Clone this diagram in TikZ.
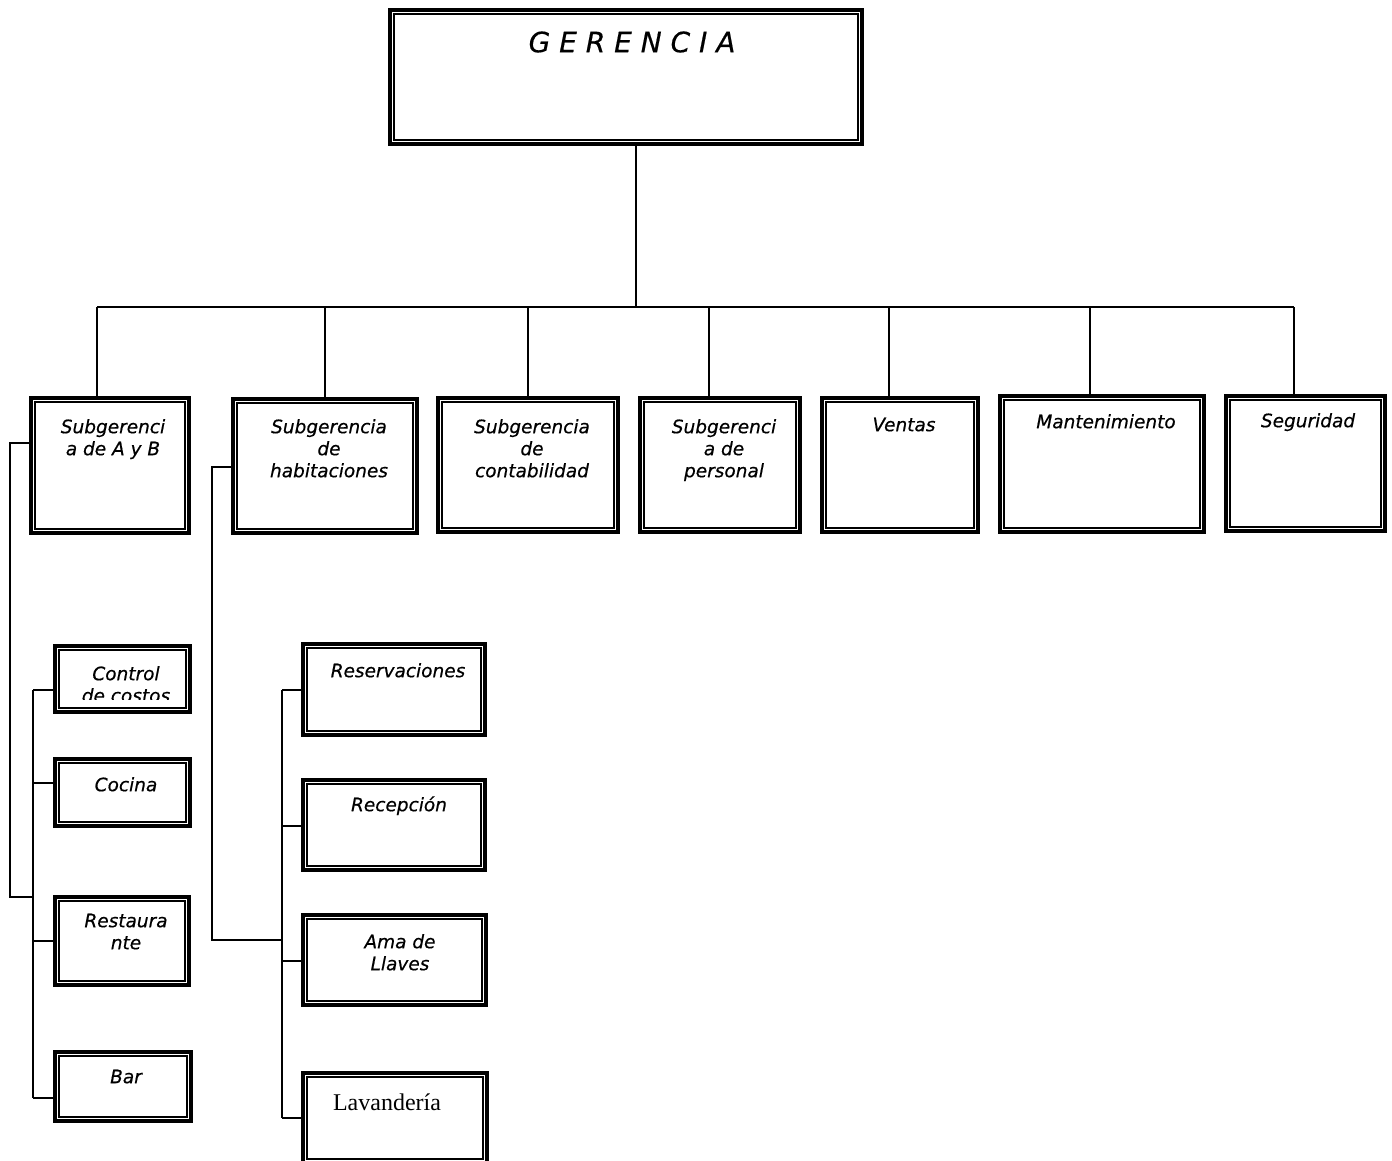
\documentclass[tikz,border=0pt]{standalone}
\usepackage{fontspec}
\setmainfont{DejaVu Sans}[ItalicFeatures={FakeBold=0.5}]
\newfontfamily\romanfont{Liberation Serif}
\usetikzlibrary{fit}
\tikzset{
  orgbox/.style={draw, line width=3.3pt, inner sep=0pt},
  innerline/.style={line width=1.5pt},
  conn/.style={line width=1.6pt},
  lbl/.style={inner sep=0pt, align=center, anchor=north,
    font=\fontsize{18.5}{22}\selectfont\itshape},
}
\newcommand\tstrut{\rule{0pt}{15pt}}

\begin{document}
\begin{tikzpicture}[x=1pt,y=-1pt]
\useasboundingbox (0,0) rectangle (1392,1160);
\clip (0,0) rectangle (1392,1160);

% boxes: outer heavy frame
\node[orgbox, fit={(390,10) (862,144)}] (ger) {};
\node[orgbox, fit={(31,398) (189,533)}] (b1) {};
\node[orgbox, fit={(233,399) (417,533)}] (b2) {};
\node[orgbox, fit={(438,398) (618,532)}] (b3) {};
\node[orgbox, fit={(640,398) (800,532)}] (b4) {};
\node[orgbox, fit={(822,398) (978,532)}] (b5) {};
\node[orgbox, fit={(1000,396) (1204,532)}] (b6) {};
\node[orgbox, fit={(1226,396) (1385,531)}] (b7) {};
\node[orgbox, fit={(55,646) (190,712)}] (c1) {};
\node[orgbox, fit={(55,759) (190,826)}] (c2) {};
\node[orgbox, fit={(55,897) (189,985)}] (c3) {};
\node[orgbox, fit={(55,1052) (191,1121)}] (c4) {};
\node[orgbox, fit={(303,644) (485,735)}] (r1) {};
\node[orgbox, fit={(303,780) (485,870)}] (r2) {};
\node[orgbox, fit={(303,915) (486,1005)}] (r3) {};
\node[orgbox, fit={(303,1073) (487,1163)}] (r4) {};

% thin inner frame of every box
\foreach \n in {ger,b1,b2,b3,b4,b5,b6,b7,c1,c2,c3,c4,r1,r2,r3,r4}
  \draw[innerline] ([shift={(5.5,5.5)}]\n.north west) rectangle ([shift={(-5.5,-5.5)}]\n.south east);

% labels
\node[lbl, font=\fontsize{28}{32}\selectfont\itshape] (tger) at (632,52-24) {\rule{0pt}{24pt}G E R E N C I A};
\node[lbl] (tb1) at (113,433-15) {\tstrut Subgerenci\\a de A y B};
\node[lbl] (tb2) at (329,433-15) {\tstrut Subgerencia\\de\\habitaciones};
\node[lbl] (tb3) at (532,433-15) {\tstrut Subgerencia\\de\\contabilidad};
\node[lbl] (tb4) at (724,433-15) {\tstrut Subgerenci\\a de\\personal};
\node[lbl] (tb5) at (904,431-15) {\tstrut Ventas};
\node[lbl] (tb6) at (1106,428-15) {\tstrut Mantenimiento};
\node[lbl] (tb7) at (1308,427-15) {\tstrut Seguridad};
\begin{scope}
  % the second line is cut off by the frame
  \clip (55,640) rectangle (190,699);
  \node[lbl] (tc1) at (126,680-15) {\tstrut Control\\de costos};
\end{scope}
\node[lbl] (tc2) at (126,791-15) {\tstrut Cocina};
\node[lbl] (tc3) at (126,927-15) {\tstrut Restaura\\nte};
\node[lbl] (tc4) at (126,1083-15) {\tstrut Bar};
\node[lbl] (tr1) at (398,677-15) {\tstrut Reservaciones};
\node[lbl] (tr2) at (399,811-15) {\tstrut Recepción};
\node[lbl] (tr3) at (400,948-15) {\tstrut Ama de\\Llaves};
\node[lbl, font=\fontsize{24}{28}\selectfont\romanfont] (tr4) at (387,1110-20) {\rule{0pt}{20pt}Lavandería};

% trunk and bus
\coordinate (tk) at (636,307);
\draw[conn] (tk |- ger.south) -- (tk);
\foreach \x [count=\i] in {97,325,528,709,889,1090,1294}
  \coordinate (d\i) at (\x,307);
\draw[conn] (d1) -- (d7);
\foreach \i in {1,...,7}
  \draw[conn] (d\i) -- (d\i |- b\i.north);

% branch under Subgerencia de A y B
\coordinate (la) at (10,443);
\coordinate (lb) at (10,897);
\coordinate (ls) at (33,897);
\draw[conn] (la -| b1.west) -- (la) -- (lb) -- (ls);
\coordinate (s1) at (33,690);
\coordinate (s2) at (33,783);
\coordinate (s3) at (33,941);
\coordinate (s4) at (33,1098);
\draw[conn] (s1) -- (s4);
\foreach \i in {1,...,4}
  \draw[conn] (s\i) -- (s\i -| c\i.west);

% branch under Subgerencia de habitaciones
\coordinate (ma) at (212,467);
\coordinate (mb) at (212,940);
\coordinate (mc) at (282,940);
\draw[conn] (ma -| b2.west) -- (ma) -- (mb) -- (mc);
\coordinate (m1) at (282,690);
\coordinate (m2) at (282,826);
\coordinate (m3) at (282,961);
\coordinate (m4) at (282,1118);
\draw[conn] (m1) -- (m4);
\foreach \i in {1,...,4}
  \draw[conn] (m\i) -- (m\i -| r\i.west);
\end{tikzpicture}
\end{document}
